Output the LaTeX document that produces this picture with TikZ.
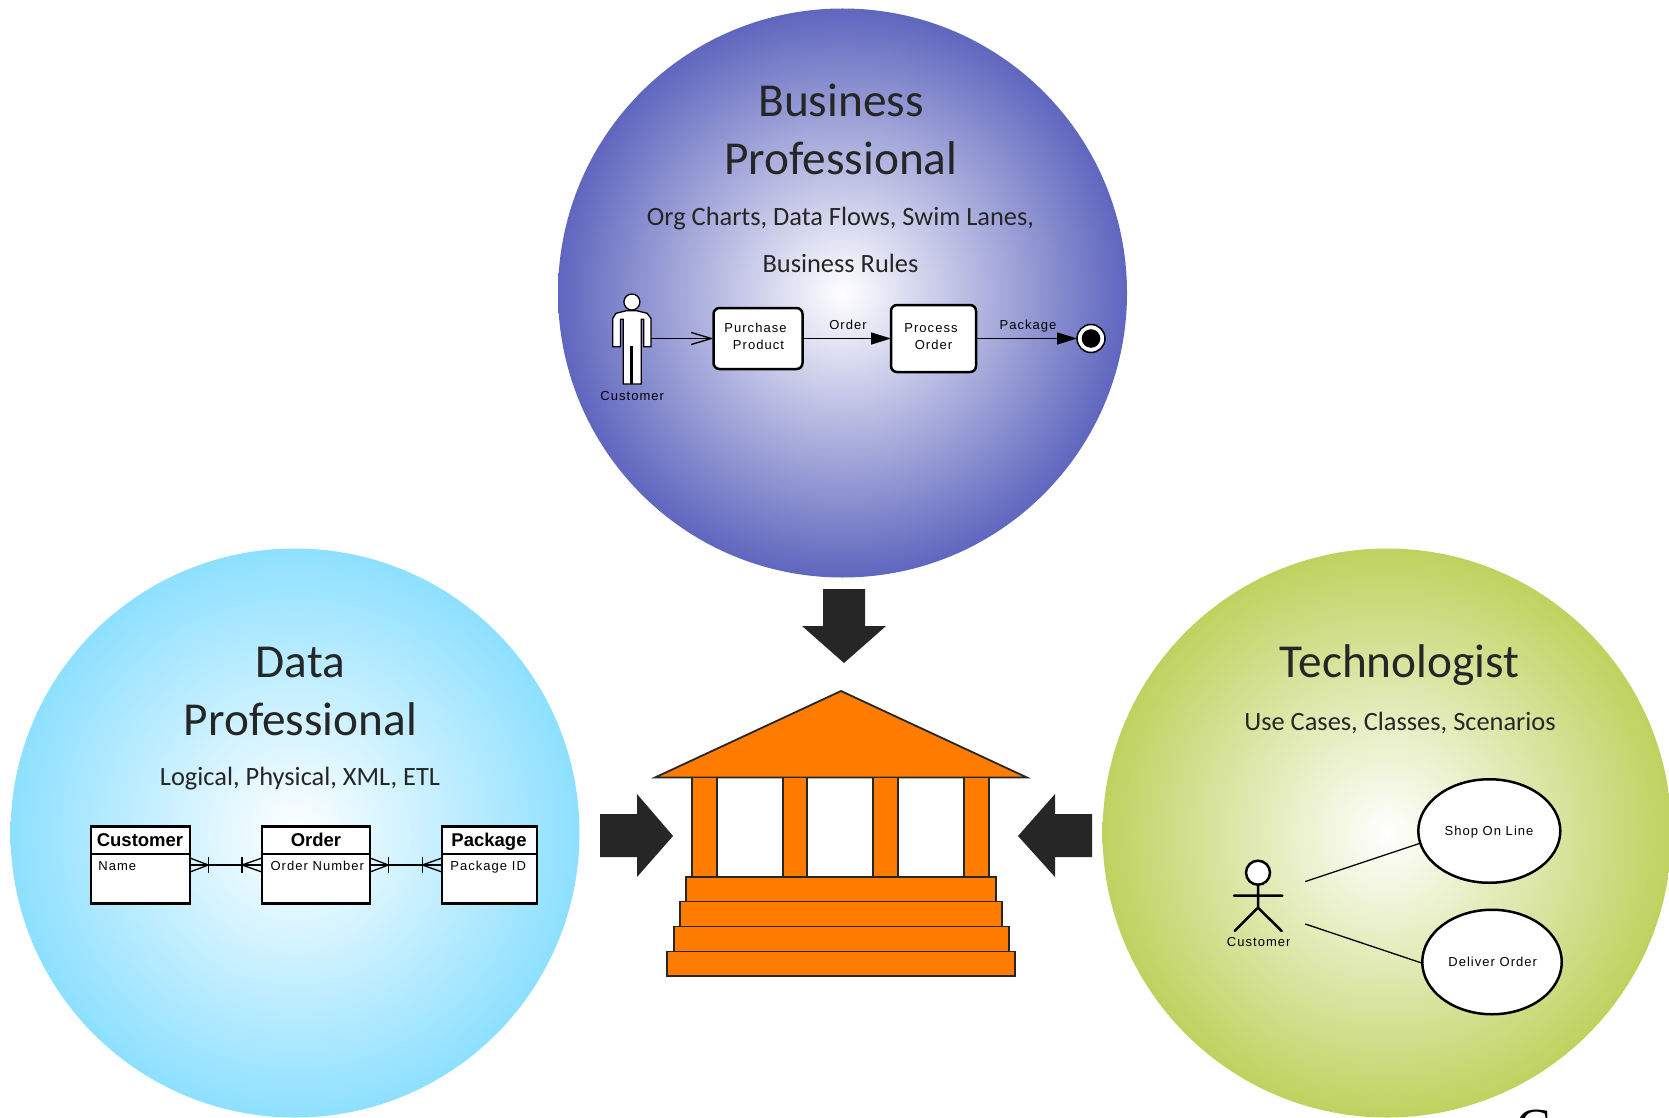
\documentclass[tikz,border=0pt]{standalone}
\usepackage{fontspec}
\usepackage{xcolor}
\usetikzlibrary{arrows.meta,shapes.geometric}
\setmainfont{Carlito}
\newfontfamily\diagfont[LetterSpace=8]{Liberation Sans}
\newfontfamily\headfont{Liberation Sans}
\newfontfamily\logofont{Liberation Serif}
\definecolor{inkgray}{HTML}{262626}
\definecolor{roofcolor}{HTML}{FF7C00}
\definecolor{bluedisc}{HTML}{5F66BE}
\definecolor{cyandisc}{HTML}{8DE0FF}
\definecolor{greendisc}{HTML}{BFD25F}
\pgfdeclareradialshading{bluefade}{\pgfpoint{0bp}{0bp}}{color(0bp)=(white); color(25bp)=(bluedisc); color(50bp)=(bluedisc)}
\pgfdeclareradialshading{cyanfade}{\pgfpoint{0bp}{0bp}}{color(0bp)=(white); color(25bp)=(cyandisc); color(50bp)=(cyandisc)}
\pgfdeclareradialshading{greenfade}{\pgfpoint{0bp}{0bp}}{color(0bp)=(white); color(25bp)=(greendisc); color(50bp)=(greendisc)}
\tikzset{
  disc/.style={circle,minimum size=569pt,inner sep=0pt,outer sep=0pt},
  titletext/.style={align=center,text=inkgray,font=\fontsize{47.3}{58}\selectfont},
  subtext/.style={align=center,text=inkgray,font=\fontsize{26.4}{47.5}\selectfont},
  smalltext/.style={inner sep=0pt,text height=9.5pt,text depth=0pt,font=\diagfont\fontsize{13}{17}\selectfont},
  headtext/.style={inner sep=0pt,anchor=base,font=\headfont\bfseries\fontsize{18.5}{20}\selectfont},
  taskbox/.style={rectangle,draw,fill=white,rounded corners=6pt,line width=2.5pt,outer sep=0pt},
  tablebox/.style={rectangle,draw,fill=white,line width=2.5pt,outer sep=0pt,minimum height=77pt},
  usecase/.style={ellipse,draw,fill=white,line width=2.5pt,outer sep=0pt,inner sep=0pt},
  thinline/.style={line width=1.3pt},
  bigarrow/.style={fill=inkgray},
  temple/.style={fill=roofcolor,draw=inkgray,line width=1.8pt},
}
\begin{document}
\begin{tikzpicture}[x=1pt,y=-1pt]
  \useasboundingbox (0,0) rectangle (1669,1118);

  \node[disc,shading=bluefade] (business) at (842.5,293) {};
  \node[disc,shading=cyanfade] (data) at (295,833) {};
  \node[disc,shading=greenfade] (tech) at (1387,833) {};

  \node[titletext] (businesstitle) at (841,129) {Business\\Professional};
  \node[subtext] (businesssub) at (840.5,240) {Org Charts, Data Flows, Swim Lanes,\\Business Rules};
  \node[titletext] (datatitle) at (300.5,691) {Data\\Professional};
  \node[subtext] (datasub) at (300,778.5) {Logical, Physical, XML, ETL};
  \node[titletext] (techtitle) at (1399.5,665) {Technologist};
  \node[subtext] (techsub) at (1400,723) {Use Cases, Classes, Scenarios};

  \fill[bigarrow] (823,589) -- (865,589) -- (865,626) -- (886,626) -- (844,663) -- (802,626) -- (823,626) -- cycle;
  \fill[bigarrow] (600,814) -- (637,814) -- (637,794) -- (673,836) -- (637,877) -- (637,857) -- (600,857) -- cycle;
  \fill[bigarrow] (1092,814) -- (1055,814) -- (1055,794) -- (1018,836) -- (1055,877) -- (1055,857) -- (1092,857) -- cycle;

  \draw[temple] (841,691) -- (1027,777.5) -- (655,777.5) -- cycle;
  \foreach \xa/\xb in {692/717,783/807,873/898,964/989}
    \draw[temple] (\xa,777.5) rectangle (\xb,877);
  \foreach \xa/\xb/\ya/\yb in {686/996/877/901.5,680/1002/901.5/926.5,674/1009/926.5/951.5,667/1015/951.5/976}
    \draw[temple] (\xa,\ya) rectangle (\xb,\yb);

  % business process
  \draw[fill=white,line width=1.3pt] (631.9,302) circle (8pt);
  \draw[fill=white,line width=1.3pt] (626.3,310.7) -- (636.7,310.7) -- (647.1,313.3) -- (650.9,318.3) -- (650.9,346.7) -- (643.7,346.7) -- (643.7,319.3) -- (641.2,319.3) -- (641.2,384) -- (632.2,384) -- (632.2,346.7) -- (630.8,346.7) -- (630.8,384) -- (623.2,384) -- (623.2,319.3) -- (620.5,319.3) -- (620.5,346.7) -- (612.8,346.7) -- (612.8,318.3) -- (616,313.3) -- cycle;
  \node[smalltext] (buyerlabel) at (632.2,395.5) {Customer};
  \coordinate (buyer) at (650.9,338.5);
  \node[taskbox,minimum width=89pt,minimum height=61pt] (purchase) at (758,338.5) {};
  \node[taskbox,minimum width=85pt,minimum height=67pt] (process) at (933.5,338.5) {};
  \node[smalltext] at (755.5,328) {Purchase};
  \node[smalltext] at (758.5,345) {Product};
  \node[smalltext] at (931,328) {Process};
  \node[smalltext] at (933.5,345) {Order};
  \node[circle,draw,fill=white,line width=1.5pt,minimum size=28pt,inner sep=0pt,outer sep=0pt] (finish) at (1091,338.5) {};
  \fill (finish) circle (9.3pt);
  \draw[thinline,-{Straight Barb[length=20pt,width=12pt]}] (buyer) -- (purchase);
  \draw[thinline,-{Triangle[length=20pt,width=12pt]}] (purchase) -- (process);
  \draw[thinline,-{Triangle[length=20pt,width=12pt]}] (process) -- (finish);
  \node[smalltext] at (848,325) {Order};
  \node[smalltext] at (1028,325) {Package};

  % data tables
  \node[tablebox,minimum width=99pt] (customer) at (140.5,865) {};
  \node[tablebox,minimum width=108pt] (order) at (316,865) {};
  \node[tablebox,minimum width=95pt] (package) at (489.5,865) {};
  \draw[line width=2.5pt] (91,854) -- (190,854) (262,854) -- (370,854) (442,854) -- (537,854);
  \node[headtext] at (140,846) {Customer};
  \node[headtext] at (316,846) {Order};
  \node[headtext] at (489,846) {Package};
  \node[smalltext,anchor=west] at (98.2,865.5) {Name};
  \node[smalltext,anchor=west] at (270.4,865.5) {Order Number};
  \node[smalltext,anchor=west] at (450.2,865.5) {Package ID};
  \draw[thinline] (customer) -- (order);
  \draw[thinline] (order) -- (package);
  \foreach \xa/\xb in {208.3/190,242/262,388.3/370,422.3/442} {
    \draw[thinline] (\xa,857) -- (\xa,873);
    \draw[thinline] (\xb,858) -- (\xa,865) -- (\xb,872);
  }

  % use cases
  \draw[fill=white,line width=2.5pt] (1258,872.7) circle (12pt);
  \draw[line width=2.5pt,line cap=round] (1258,884.7) -- (1258,907.7) (1234,895.7) -- (1282.3,895.7) (1234.7,931) -- (1258,907.7) -- (1281.7,931);
  \node[smalltext] (actorlabel) at (1258.7,941.5) {Customer};
  \node[usecase,minimum width=142pt,minimum height=103.5pt] (shop) at (1489.3,831) {};
  \node[usecase,minimum width=139.5pt,minimum height=104.5pt] (deliver) at (1492,962) {};
  \node[smalltext] at (1489,830.5) {Shop On Line};
  \node[smalltext] at (1492.7,961.5) {Deliver Order};
  \coordinate (actorup) at (1305.3,881.5);
  \coordinate (actordown) at (1305.3,924);
  \draw[thinline] (actorup) -- (shop.190.5);
  \draw[thinline] (actordown) -- (deliver.181);

  \node[anchor=base,inner sep=0pt,font=\logofont\fontsize{52}{52}\selectfont] (logo) at (1534,1144) {C};
\end{tikzpicture}
\end{document}
